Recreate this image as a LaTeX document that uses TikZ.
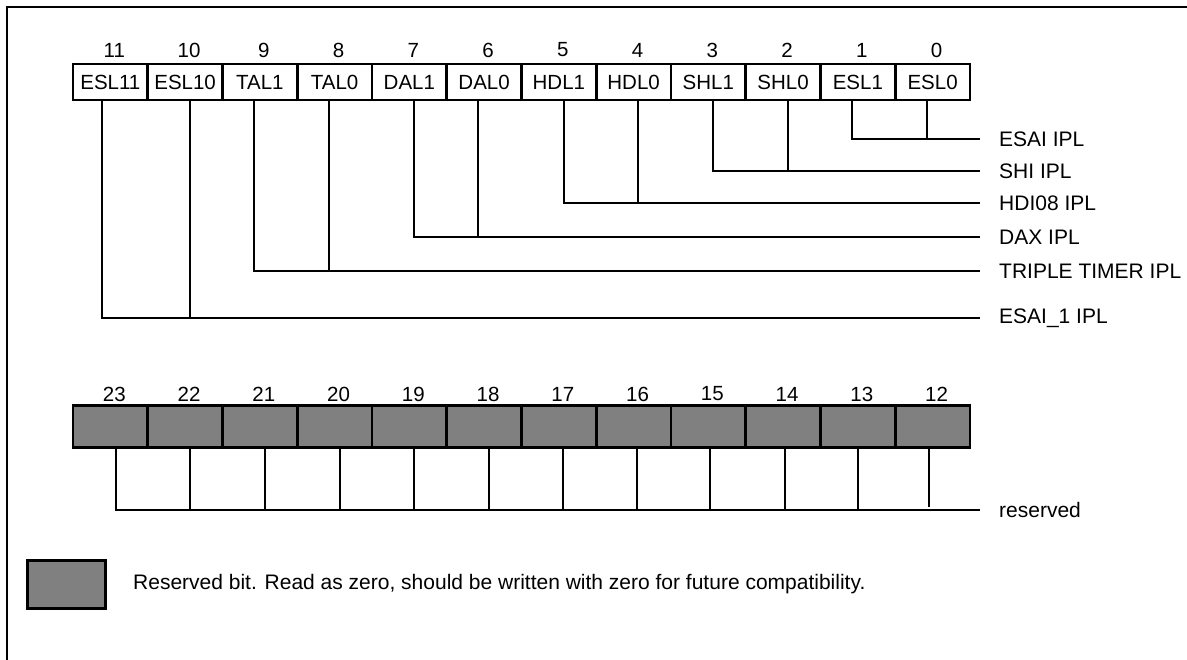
\documentclass[tikz,border=0pt]{standalone}
\usepackage{fontspec}
\setmainfont{Liberation Sans}
\definecolor{resgray}{HTML}{808080}
\begin{document}
\begin{tikzpicture}[x=1pt,y=-1pt,
  cell/.style={draw,line width=2.6pt,minimum width=74.75pt,minimum height=36pt,inner sep=0pt,font=\fontsize{20.5}{24}\selectfont},
  rcell/.style={cell,fill=resgray,minimum height=42pt},
  bitnum/.style={inner sep=0pt,font=\fontsize{20.5}{24}\selectfont},
  conn/.style={line width=1.9pt},
  lab/.style={anchor=west,inner xsep=19pt,inner ysep=0pt,font=\fontsize{21}{24}\selectfont},
  legtext/.style={anchor=west,inner sep=0pt,font=\fontsize{21}{24}\selectfont}]
\useasboundingbox (0,0) rectangle (1187,660);
% frame
\draw[line width=2pt] (7,660) -- (7,7) -- (1187,7);
% top register
\foreach \b/\t in {11/ESL11,10/ESL10,9/TAL1,8/TAL0,7/DAL1,6/DAL0,5/HDL1,4/HDL0,3/SHL1,2/SHL0,1/ESL1,0/ESL0}{
  \pgfmathsetmacro{\cx}{73+74.75*(11-\b)+37.375}
  \node[cell] (c\b) at (\cx,82) {\t};
  \node[bitnum] (n\b) at (\cx+4,50) {\b};
}
% bottom register
\foreach \b in {23,22,...,12}{
  \pgfmathsetmacro{\cx}{73+74.75*(23-\b)+37.375}
  \node[rcell] (r\b) at (\cx,426.5) {};
  \node[bitnum] (m\b) at (\cx+4,394) {\b};
}
% field labels
\node[lab] (L0) at (980,139) {ESAI IPL};
\node[lab] (L1) at (980,171) {SHI IPL};
\node[lab] (L2) at (980,203) {HDI08 IPL};
\node[lab] (L3) at (980,237) {DAX IPL};
\node[lab] (L4) at (980,271) {TRIPLE TIMER IPL};
\node[lab] (L5) at (980,318) {ESAI\_1 IPL};
\node[lab] (L6) at (980,510) {reserved};
% connectors top
\draw[conn] ([xshift=-6pt]c1.south) |- (L0.west);
\draw[conn] ([xshift=-6pt]c0.south) -- ([xshift=-6pt]c0.south |- L0.west);
\draw[conn] ([xshift=5pt]c3.south) |- (L1.west);
\draw[conn] ([xshift=5pt]c2.south) -- ([xshift=5pt]c2.south |- L1.west);
\draw[conn] ([xshift=5pt]c5.south) |- (L2.west);
\draw[conn] ([xshift=4pt]c4.south) -- ([xshift=4pt]c4.south |- L2.west);
\draw[conn] ([xshift=5pt]c7.south) |- (L3.west);
\draw[conn] ([xshift=-6pt]c6.south) -- ([xshift=-6pt]c6.south |- L3.west);
\draw[conn] ([xshift=-6pt]c9.south) |- (L4.west);
\draw[conn] ([xshift=-6pt]c8.south) -- ([xshift=-6pt]c8.south |- L4.west);
\draw[conn] ([xshift=-8pt]c11.south) |- (L5.west);
\draw[conn] ([xshift=5pt]c10.south) -- ([xshift=5pt]c10.south |- L5.west);
% connectors bottom
\draw[conn] ([xshift=6pt]r23.south) |- (L6.west);
\foreach \b/\o in {22/5,21/5,20/5,19/5,18/5,17/4,16/3,15/2,14/2,13/0}{
  \draw[conn] ([xshift=\o pt]r\b.south) -- ([xshift=\o pt]r\b.south |- L6.west);
}
\draw[conn] ([xshift=-4pt]r12.south) -- ([xshift=-4pt,yshift=3pt]r12.south |- L6.west);
% legend
\node[draw,line width=3pt,fill=resgray,minimum width=78pt,minimum height=48pt,inner sep=0pt] (leg) at (66,584) {};
\node[legtext] (legt) at (133,584) {Reserved bit. Read as zero, should be written with zero for future compatibility.};
\end{tikzpicture}
\end{document}
